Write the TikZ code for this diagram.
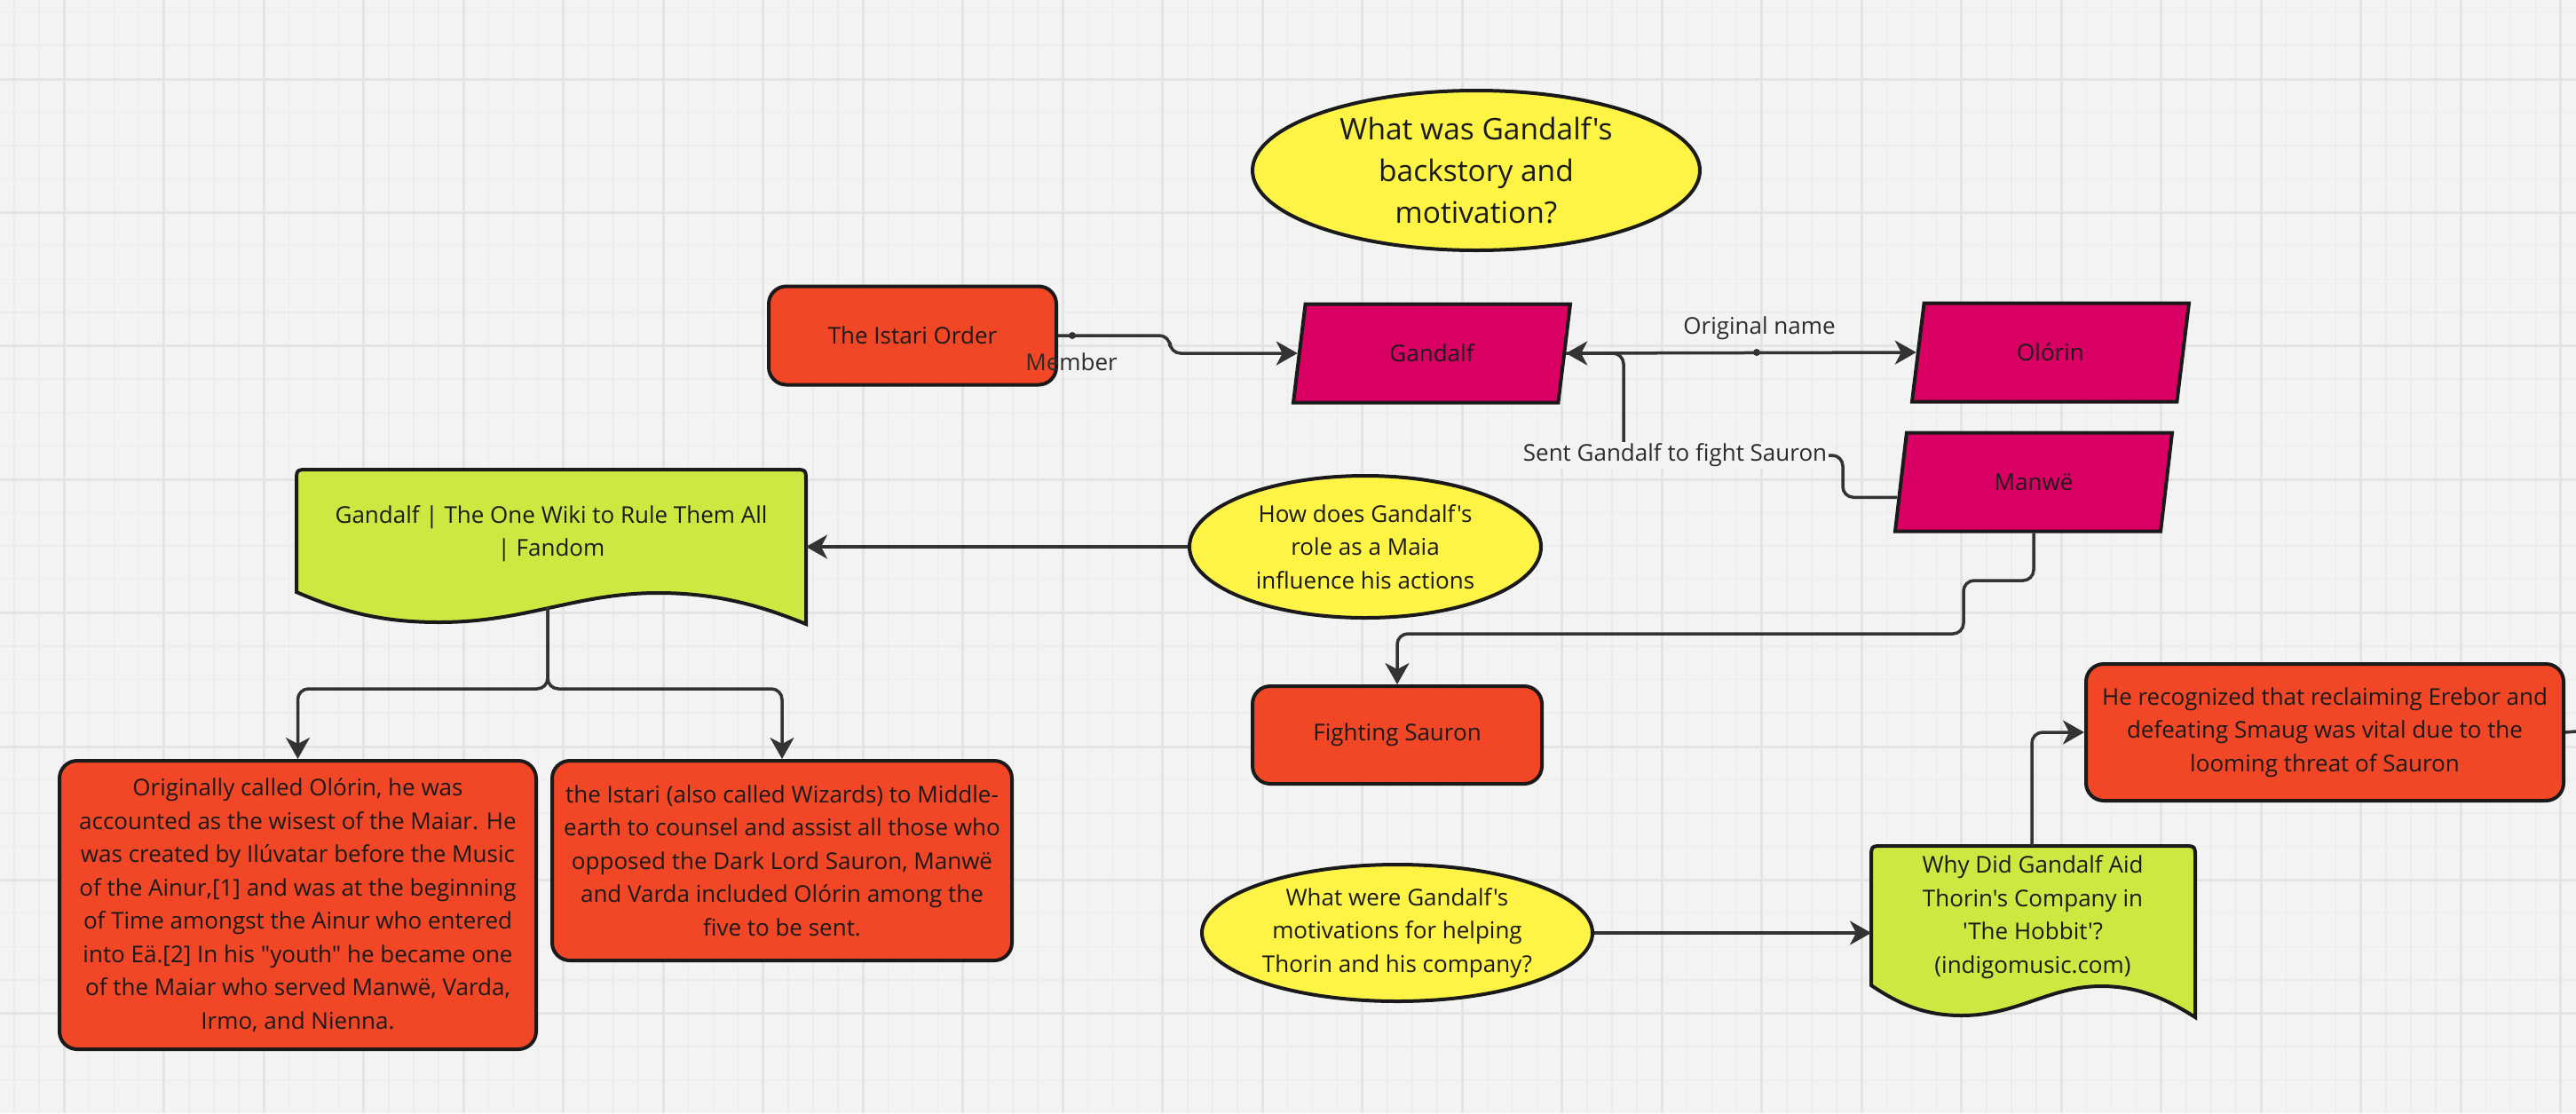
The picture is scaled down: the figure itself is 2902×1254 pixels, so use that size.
\documentclass[tikz,border=0pt]{standalone}
\usepackage{fontspec}
\setmainfont{Open Sans}[Ligatures=TeXReset]
\usetikzlibrary{shapes.geometric,arrows.meta,calc,positioning}
\definecolor{bgcol}{HTML}{F3F3F3}
\definecolor{minorcol}{HTML}{ECECEC}
\definecolor{majorcol}{HTML}{E4E4E4}
\definecolor{inkcol}{HTML}{1A1A1A}
\definecolor{linecol}{HTML}{333333}
\definecolor{labcol}{HTML}{2B2B2B}
\definecolor{redcol}{HTML}{F24726}
\definecolor{magcol}{HTML}{DA0063}
\definecolor{yelcol}{HTML}{FEF445}
\definecolor{limecol}{HTML}{CEE741}
\tikzset{
    txtsty/.style={font=\fontsize{26}{37.5}\selectfont, text=inkcol, align=center},
    boxsty/.style={txtsty, draw=inkcol, line width=4pt, fill=redcol, rectangle, rounded corners=20pt, inner sep=0pt},
    parasty/.style={txtsty, draw=inkcol, line width=4pt, fill=magcol, trapezium, trapezium left angle=56, trapezium right angle=124, trapezium stretches body, minimum width=312pt, minimum height=111pt, inner sep=0pt},
    ovalsty/.style={txtsty, draw=inkcol, line width=4pt, fill=yelcol, ellipse, inner sep=0pt},
    docsty/.style={draw=inkcol, line width=4pt, fill=limecol},
    conn/.style={draw=linecol, line width=3.5pt, rounded corners=12pt, -{Stealth[length=24pt,width=27pt,inset=7pt]}},
    plainconn/.style={draw=linecol, line width=3.5pt, rounded corners=12pt},
    lblsty/.style={font=\fontsize{26}{37.5}\selectfont, text=labcol, inner sep=2pt},
    minorgrid/.style={draw=minorcol, line width=1.5pt},
    majorgrid/.style={draw=majorcol, line width=3pt},
}
% document shape: left, top, width, left height
\newcommand{\docshape}[4]{%
  \draw[docsty, shift={(#1,#2)}] (0,#4) -- (0,14) .. controls (0,0) .. (14,0)
    -- ({#3-14},0) .. controls (#3,0) .. (#3,14) -- (#3,{#4+36})
    .. controls ({0.93*#3},{#4+20}) and ({0.84*#3},{#4+1}) .. ({0.71*#3},{#4+1})
    .. controls ({0.55*#3},{#4+1}) and ({0.45*#3},{#4+34}) .. ({0.28*#3},{#4+34})
    .. controls ({0.18*#3},{#4+34}) and ({0.1*#3},{#4+25}) .. (0,#4) -- cycle;}

\begin{document}
\begin{tikzpicture}[x=1pt, y=-1pt]
\useasboundingbox (0,0) rectangle (2902,1254);
\fill[bgcol] (0,0) rectangle (2902,1254);
% grid
\foreach \gx in {0,...,102} \draw[minorgrid] ({16+28.125*\gx},0) -- ({16+28.125*\gx},1254);
\foreach \gy in {0,...,32} \draw[minorgrid] (0,{13.5+37.6*\gy}) -- (2902,{13.5+37.6*\gy});
\foreach \gx in {0,...,25} \draw[majorgrid] ({72+112.5*\gx},0) -- ({72+112.5*\gx},1254);
\foreach \gy in {0,...,7} \draw[majorgrid] (0,{89+150.4*\gy}) -- (2902,{89+150.4*\gy});

% shapes
\node[ovalsty, minimum width=504pt, minimum height=180pt, font=\fontsize{33.5}{46.7}\selectfont] (title) at (1663,192) {What was Gandalf's\\backstory and\\motivation?};
\node[boxsty, minimum width=324pt, minimum height=111pt] (istari) at (1028,378) {The Istari Order};
\node[parasty] (gandalf) at (1613,398) {Gandalf};
\node[parasty] (olorin) at (2310,397) {Olórin};
\node[parasty] (manwe) at (2291,543) {Manwë};

\docshape{334}{529}{574}{138}
\node[txtsty] (wiki) at (621,601) {Gandalf | The One Wiki to Rule Them All\\| Fandom};
\coordinate (wikiR) at (908,616);
\coordinate (wikiB) at (617,684);

\node[ovalsty, minimum width=396pt, minimum height=160pt] (maia) at (1538,616) {How does Gandalf's\\role as a Maia\\influence his actions};

\node[boxsty, minimum width=537pt, minimum height=325pt] (origbox) at (335.5,1019.5) {Originally called Olórin, he was\\accounted as the wisest of the Maiar. He\\was created by Ilúvatar before the Music\\of the Ainur,[1] and was at the beginning\\of Time amongst the Ainur who entered\\into Eä.[2] In his "youth" he became one\\of the Maiar who served Manwë, Varda,\\Irmo, and Nienna.};
\node[boxsty, minimum width=518pt, minimum height=225pt] (sentbox) at (881,969.5) {the Istari (also called Wizards) to Middle-\\earth to counsel and assist all those who\\opposed the Dark Lord Sauron, Manwë\\and Varda included Olórin among the\\five to be sent.};

\node[boxsty, minimum width=326pt, minimum height=110pt] (fighting) at (1574,828) {Fighting Sauron};
\node[boxsty, minimum width=538pt, minimum height=154pt] (erebor) at (2619,825) {He recognized that reclaiming Erebor and\\defeating Smaug was vital due to the\\looming threat of Sauron};

\docshape{2108}{953}{365}{157}
\node[txtsty] (whyaid) at (2290,1033) {Why Did Gandalf Aid\\Thorin's Company in\\'The Hobbit'?\\(indigomusic.com)};
\coordinate (whyL) at (2108,1051);
\coordinate (whyT) at (2289,953);

\node[ovalsty, minimum width=440pt, minimum height=154pt] (helping) at (1574,1051) {What were Gandalf's\\motivations for helping\\Thorin and his company?};

% connectors
\coordinate (manweout) at ($(manwe.bottom left corner)!0.35!(manwe.top left corner)$);
\coordinate (offR) at (2902,824);
\draw[conn] (istari.east) -- (1318,378) |- (gandalf.left side);
\draw[conn] (gandalf.right side) -- (olorin.left side);
\draw[conn] (manweout) -| (2076,513) -- (1829,513) |- (gandalf.right side);
\draw[conn] (maia.west) -- (maia.west -| wikiR);
\draw[conn] (wikiB) -- (617,776) -| (origbox.north);
\draw[conn] (wikiB) -- (617,776) -| (sentbox.north);
\draw[conn] (manwe.south -| manwe.center) -- (2291,654) -- (2212,654) -- (2212,714) -| (fighting.north);
\draw[conn] (helping.east) -- (whyL);
\draw[conn] (whyT) |- (erebor.west);
\draw[plainconn] (erebor.east) -- (offR);
\fill[linecol] (1208,378) circle (4pt);
\fill[linecol] (1979,397) circle (4pt);

% labels
\node[lblsty] (memberlbl) at (1207,408) {Member};
\node[lblsty] (origlbl) at (1982,370) {Original name};
\node[lblsty, fill=bgcol] (sentlbl) at (1887,513) {Sent Gandalf to fight Sauron};
\end{tikzpicture}
\end{document}
